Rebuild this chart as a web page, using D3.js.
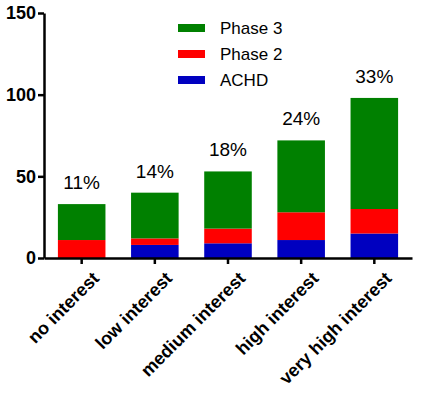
<!DOCTYPE html>
<html>
<head>
<meta charset="utf-8">
<script src="https://cdn.jsdelivr.net/npm/d3@7.9.0/dist/d3.min.js"></script>
<style>
  body { margin: 0; background: #fff; }
  svg { display: block; font-family: "Liberation Sans", Arial, sans-serif; }
</style>
</head>
<body>
<svg id="chart" width="425" height="394"></svg>
<script>
/* ──── data ──── */
const categories = ['no interest', 'low interest', 'medium interest', 'high interest', 'very high interest'];
const achd       = [0, 8, 9, 11, 15];
const phase2     = [11, 4, 9, 17, 15];
const phase3     = [22, 28, 35, 44, 68];
const percents   = ['11%', '14%', '18%', '24%', '33%'];
const seriesKeys = ['ACHD', 'Phase 2', 'Phase 3'];
const yTicks     = [0, 50, 100, 150];

const colors = d3.scaleOrdinal()
  .domain(seriesKeys)
  .range(['#0000c0', '#ff0000', '#008000']);

/* ──── layout ──── */
const margin = { top: 13, right: 12, bottom: 136, left: 44 };
const width  = 425, height = 394;

const rows = categories.map((c, i) => ({
  cat: c, 'ACHD': achd[i], 'Phase 2': phase2[i], 'Phase 3': phase3[i], pct: percents[i]
}));

const stacked = d3.stack().keys(seriesKeys)(rows);

const x = d3.scaleBand()
  .domain(categories)
  .range([margin.left, width - margin.right - 1])
  .paddingInner(0.35)
  .paddingOuter(0.19);

const y = d3.scaleLinear()
  .domain([0, 150])
  .range([height - margin.bottom, margin.top]);

const svg = d3.select('#chart');

/* bars */
svg.append('g')
  .selectAll('g')
  .data(stacked)
  .join('g')
  .attr('fill', d => colors(d.key))
  .selectAll('rect')
  .data(d => d)
  .join('rect')
  .attr('x', d => x(d.data.cat))
  .attr('width', x.bandwidth())
  .attr('y', d => y(d[1]))
  .attr('height', d => y(d[0]) - y(d[1]));

/* percent labels */
svg.append('g')
  .selectAll('text')
  .data(rows)
  .join('text')
  .attr('x', d => x(d.cat) + x.bandwidth() / 2)
  .attr('y', d => y(d['ACHD'] + d['Phase 2'] + d['Phase 3']) - 15)
  .attr('text-anchor', 'middle')
  .style('font-size', '19px')
  .text(d => d.pct);

/* axes */
const yAxis = svg.append('g')
  .attr('transform', `translate(${margin.left},0)`)
  .call(d3.axisLeft(y).tickValues(yTicks).tickSize(6).tickPadding(2).tickSizeOuter(0));

const xAxis = svg.append('g')
  .attr('transform', `translate(0,${height - margin.bottom})`)
  .call(d3.axisBottom(x).tickSize(6).tickSizeOuter(0).tickPadding(4));

[yAxis, xAxis].forEach(a => {
  a.select('.domain').attr('stroke', '#000').attr('stroke-width', 2.5);
  a.selectAll('.tick line').attr('stroke', '#000').attr('stroke-width', 2.5);
  a.selectAll('text')
   .attr('fill', '#000')
   .style('font-family', '"Liberation Sans", Arial, sans-serif')
   .style('font-weight', 'bold');
});

yAxis.selectAll('text').style('font-size', '18px');

xAxis.selectAll('text')
  .style('font-size', '18px')
  .attr('text-anchor', 'end')
  .attr('dy', '0.35em')
  .attr('transform', 'translate(7,10) rotate(-45)');

/* legend */
const legend = svg.append('g')
  .selectAll('g')
  .data(seriesKeys.slice().reverse())
  .join('g')
  .attr('transform', (d, i) => `translate(178,${24 + i * 26})`);

legend.append('rect')
  .attr('width', 27)
  .attr('height', 8)
  .attr('fill', d => colors(d));

legend.append('text')
  .attr('x', 42)
  .attr('y', 4)
  .attr('dy', '0.35em')
  .style('font-size', '17px')
  .text(d => d);
</script>
</body>
</html>
